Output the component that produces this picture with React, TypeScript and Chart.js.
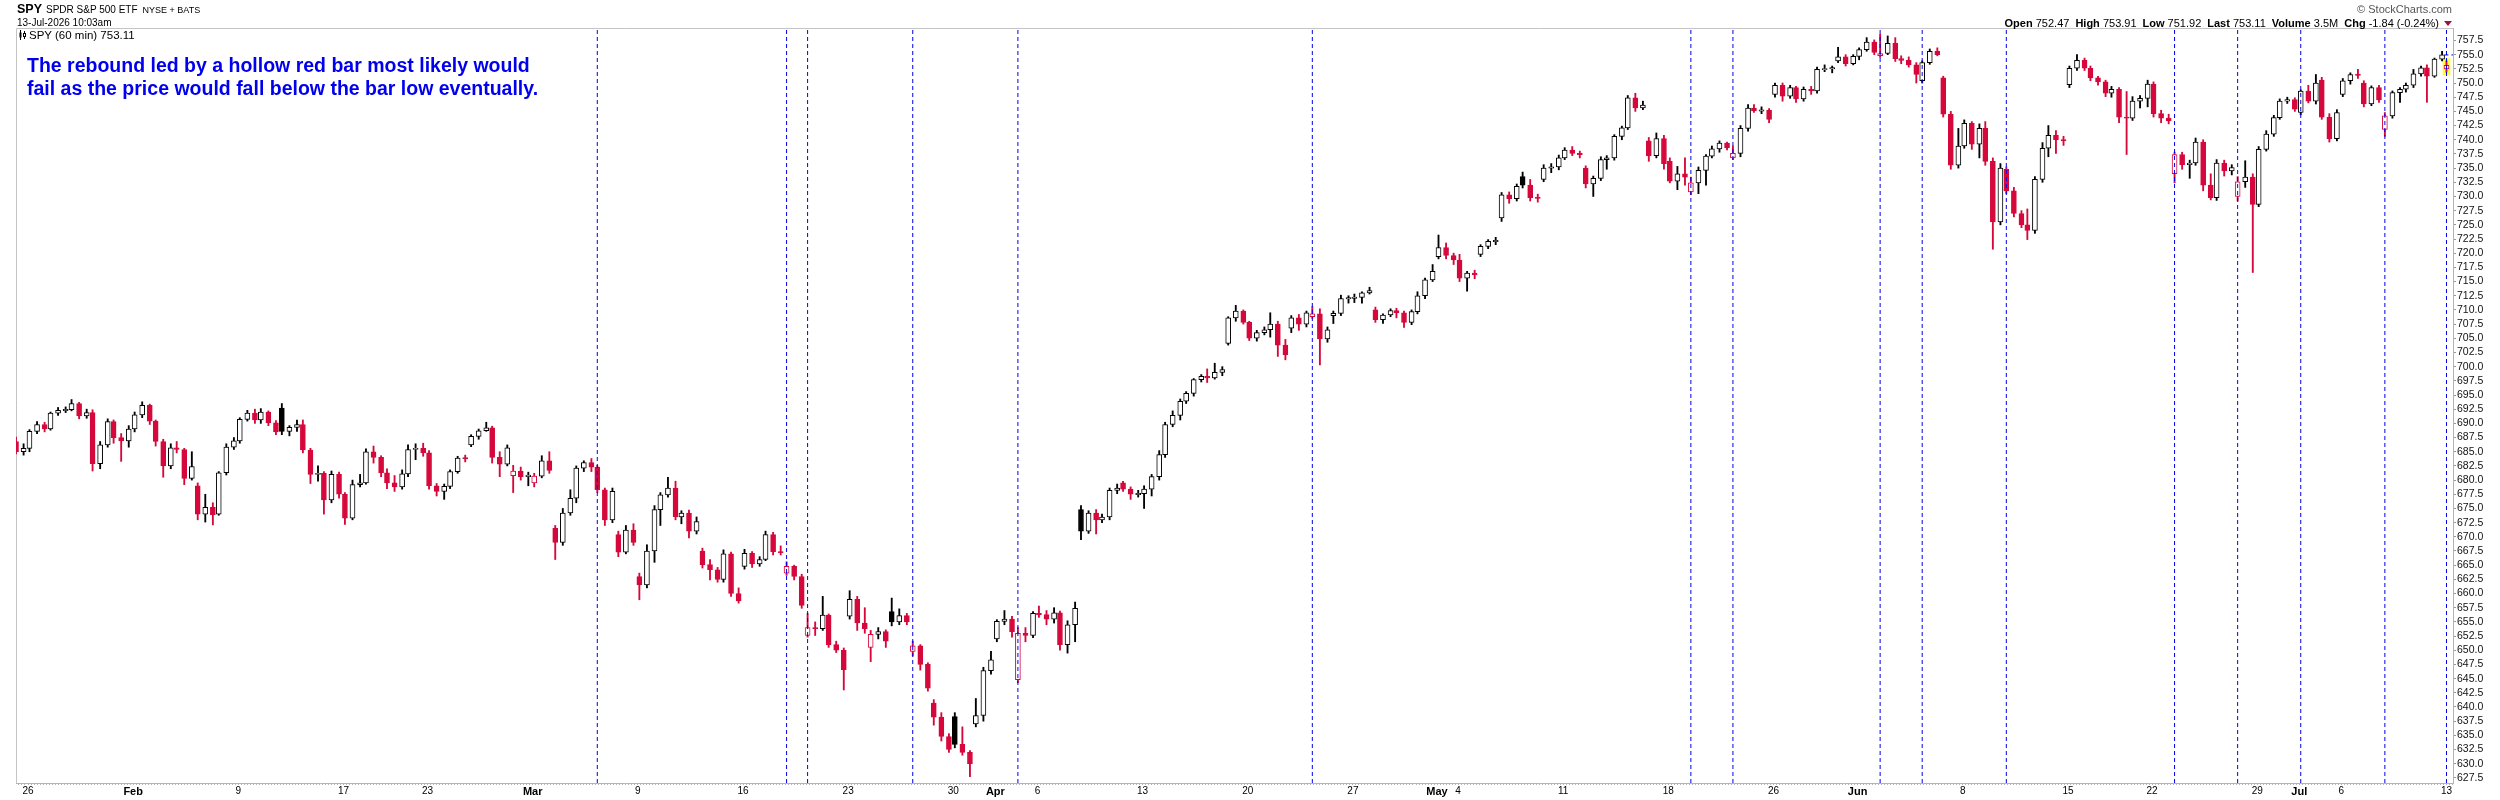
import React, { useEffect, useRef } from 'react';
import { Chart, registerables } from 'chart.js';

Chart.register(...registerables);

const FONT = "'Liberation Sans', Arial, Helvetica, sans-serif";

// x axis: trading-day index, 0 = Mon Jan 26 2026 ... 115 = Mon Jul 13 2026
const tickDays = [0, 5, 10, 15, 19, 24, 29, 34, 39, 44, 46, 48, 53, 58, 63, 67, 68, 73, 78, 83, 87, 92, 97, 101, 106, 108, 110, 115];
const tickLabels = ['26', 'Feb', '9', '17', '23', 'Mar', '9', '16', '23', '30', 'Apr', '6', '13', '20', '27', 'May', '4', '11', '18', '26', 'Jun', '8', '15', '22', '29', 'Jul', '6', '13'];
const monthNames = ['Feb', 'Mar', 'Apr', 'May', 'Jun', 'Jul'];

// sessions opened by a hollow red bar (blue dashed markers)
const markerDays = [27, 36, 37, 42, 47, 61, 79, 81, 88, 90, 94, 102, 105, 108, 112, 115];

// 60-min session split into 3 bars/day: Jan 23 (last two), Jan 26 .. Jul 10, Jul 13 (first bar)
const priorClose = 686.9;
const opens = [
  686.8, 685.0,
  685.6, 688.6, 689.8, 689.0, 691.8, 692.3, 692.4, 693.5, 691.3, 691.9, 682.9, 686.2, 690.3, 687.5, 686.9,
  689.0, 691.5, 693.2, 690.4, 686.8, 682.5, 685.7, 685.4, 680.3, 679.0, 674.0, 675.2, 674.0, 681.3, 685.8,
  686.9, 690.7, 691.8, 690.6, 692.0, 690.1, 692.7, 688.6, 689.3, 689.8, 685.3, 681.0, 681.2, 676.5, 681.0,
  677.5, 673.3, 679.2, 679.5, 685.0, 684.0, 681.3, 679.5, 678.8, 681.1, 685.4, 685.6,
  684.8, 679.0, 678.0, 678.9, 681.5, 683.9, 686.2, 687.7, 688.7, 689.2, 684.0, 682.8, 680.8, 681.6, 680.6,
  679.5, 680.7, 683.4, 671.5, 669.0, 674.2, 676.8, 682.1, 683.1, 682.3, 678.3, 673.0, 670.4, 667.3, 671.2,
  663.0, 661.5, 667.5, 674.8, 677.4, 678.6, 673.5, 674.2, 671.0, 667.5, 665.1, 664.2, 662.5, 667.0, 660.0,
  664.8, 667.1, 665.2, 666.0, 670.4, 667.4, 663.6, 664.8, 663.0, 652.6, 654.0, 653.8, 656.2, 651.0, 650.0,
  656.0, 659.0, 654.8, 650.5, 652.8, 653.3, 656.8, 655.0, 656.1, 649.8, 650.8, 647.5, 640.7, 638.2, 634.8,
  638.3, 633.4, 632.0, 637.0, 638.5, 646.4, 652.0, 655.1, 655.5, 644.8, 653.0, 652.6,
  656.5, 656.3, 655.5, 656.6, 651.0, 654.5, 674.8, 671.0, 674.2, 673.0, 673.5, 678.2, 679.5, 678.4, 677.5,
  677.6, 678.4, 680.6, 684.5, 689.8, 691.4, 693.9, 695.3, 697.7, 698.3, 698.0, 699.0, 704.1, 708.6, 709.8,
  707.8, 705.0, 706.0, 706.5, 707.5, 703.8, 706.8, 708.6, 707.5, 708.8, 709.3, 704.9, 709.0, 709.4, 712.0,
  712.1, 712.2, 713.0, 710.0, 708.3, 709.1, 709.9, 709.5, 707.8, 709.7, 712.5, 715.3, 719.4, 721.0, 719.6,
  718.8, 715.6, 716.5, 719.8, 721.2, 722.1, 726.2, 730.3, 729.6, 733.5, 732.0, 729.8, 733.0, 735.0, 735.2,
  736.8, 738.2, 737.6, 735.0, 732.2, 733.2, 736.5, 736.8, 740.6, 742.1, 747.4, 745.6, 739.8, 737.2, 740.2,
  736.2, 732.7, 734.0, 730.8, 732.4, 734.6, 737.1, 738.4, 739.4, 736.8, 737.6, 742.0, 745.6, 745.1, 745.2,
  748.0, 749.6, 747.7, 749.2, 747.2, 748.9, 748.6, 752.4, 752.5, 753.9, 754.6, 753.4,
  754.7, 755.9, 757.2, 754.8, 755.2, 757.0, 754.3, 754.0, 753.2, 750.4, 753.6, 755.6, 750.9, 744.5, 735.5,
  738.9, 742.9, 739.2, 742.0, 736.2, 725.5, 734.8, 731.0, 727.0, 725.0, 724.0, 733.0, 738.5, 740.8, 740.0,
  749.7, 752.6, 754.0, 752.6, 750.9, 750.2, 748.2, 748.9, 744.0, 743.8, 746.8, 747.3,
  749.8, 744.6, 743.8, 734.0, 737.4, 735.6, 735.9, 739.6, 732.0, 729.8, 735.9, 734.5, 730.0, 732.6, 733.4,
  728.6, 738.3, 741.0, 743.9, 746.8, 747.1, 744.8, 748.6, 746.8, 750.5, 744.0, 740.2,
  748.0, 750.4, 751.5, 750.0, 746.3, 749.2, 741.8, 744.2, 748.3, 748.9, 749.6, 751.6, 752.7, 751.2, 754.2,
  752.47,
];
const highs = [
  687.6, 686.4,
  688.9, 690.3, 690.2, 692.0, 692.8, 692.9, 694.2, 693.7, 692.5, 692.4, 686.8, 690.8, 690.6, 688.2, 689.6,
  692.0, 693.8, 693.4, 690.6, 687.2, 686.4, 686.8, 685.6, 685.0, 679.5, 677.5, 676.0, 681.5, 686.4, 687.5,
  691.0, 692.3, 692.5, 692.6, 692.2, 690.5, 693.5, 689.6, 690.6, 690.6, 685.6, 682.5, 681.5, 681.6, 681.4,
  677.8, 680.0, 681.0, 685.5, 686.0, 684.3, 682.0, 680.8, 681.8, 686.2, 686.4, 686.5,
  685.2, 679.4, 679.3, 681.8, 684.2, 684.4, 688.0, 689.0, 690.2, 689.5, 685.0, 686.2, 682.6, 682.3, 681.4,
  681.2, 684.3, 685.0, 672.0, 675.0, 678.3, 682.5, 683.4, 683.8, 682.6, 678.6, 678.6, 671.0, 672.0, 672.3,
  663.6, 668.6, 675.5, 677.8, 680.5, 679.8, 674.6, 674.7, 673.5, 668.0, 666.0, 664.6, 667.7, 667.3, 661.0,
  667.8, 667.4, 666.5, 671.0, 670.8, 668.4, 665.6, 665.0, 663.4, 656.5, 655.0, 659.5, 656.4, 651.6, 650.4,
  660.5, 659.5, 657.5, 653.5, 654.0, 653.6, 659.2, 657.3, 656.5, 651.6, 651.0, 647.8, 641.3, 639.0, 635.3,
  639.0, 636.5, 632.3, 641.5, 647.0, 649.8, 655.4, 657.0, 656.0, 654.0, 654.0, 656.8,
  657.8, 657.0, 657.5, 656.9, 655.2, 658.5, 675.5, 674.6, 674.8, 674.0, 678.6, 679.3, 679.8, 678.8, 678.2,
  679.0, 681.0, 685.2, 690.2, 692.2, 694.3, 695.6, 697.9, 698.6, 699.6, 700.6, 700.0, 708.8, 710.8, 710.0,
  708.0, 706.4, 707.0, 709.5, 708.0, 704.8, 709.0, 709.2, 709.8, 710.6, 710.2, 707.0, 709.8, 712.6, 712.5,
  712.8, 713.2, 714.0, 710.5, 709.3, 710.2, 710.3, 709.8, 710.0, 713.2, 715.6, 718.0, 723.2, 721.8, 720.0,
  719.8, 716.8, 717.0, 721.5, 722.4, 722.8, 730.7, 730.8, 732.2, 734.3, 733.0, 730.4, 735.6, 735.8, 737.3,
  738.6, 738.8, 738.0, 735.4, 733.6, 737.0, 737.2, 740.9, 742.4, 747.8, 748.2, 746.8, 740.4, 741.2, 740.8,
  736.8, 735.3, 736.8, 733.4, 735.2, 737.4, 738.9, 739.8, 739.6, 738.9, 742.5, 746.2, 746.2, 745.8, 745.5,
  750.0, 750.0, 749.6, 749.4, 749.3, 749.4, 752.8, 753.2, 753.0, 756.3, 755.0, 755.0,
  756.2, 758.0, 757.6, 758.6, 758.3, 758.0, 754.8, 754.6, 753.6, 753.9, 756.0, 756.2, 751.2, 745.0, 742.0,
  743.5, 743.2, 742.8, 743.2, 736.8, 735.8, 735.2, 731.6, 727.5, 727.8, 733.5, 739.5, 742.5, 741.6, 740.6,
  753.0, 755.0, 754.4, 753.0, 751.2, 750.5, 749.4, 749.2, 748.5, 747.6, 747.8, 750.5,
  750.2, 745.2, 744.5, 737.8, 737.8, 736.4, 740.3, 740.0, 734.0, 736.5, 736.4, 735.6, 733.5, 736.3, 734.0,
  738.8, 741.6, 744.3, 747.2, 747.5, 747.4, 748.8, 749.6, 751.5, 751.0, 744.6, 745.3,
  750.8, 751.8, 752.4, 750.4, 749.5, 749.6, 744.8, 748.6, 749.2, 750.0, 752.4, 753.0, 753.2, 754.4, 755.6,
  753.91,
];
const lows = [
  684.6, 684.4,
  685.0, 688.2, 688.5, 688.8, 691.4, 691.9, 692.2, 690.8, 690.9, 681.6, 682.0, 685.8, 686.5, 683.3, 685.8,
  688.5, 691.0, 689.8, 686.0, 680.5, 682.0, 684.8, 679.2, 680.0, 673.0, 672.6, 672.1, 673.8, 680.9, 685.4,
  686.5, 690.4, 690.0, 690.0, 689.6, 688.0, 688.0, 687.8, 688.6, 684.8, 679.4, 679.8, 674.0, 676.0, 676.8,
  672.2, 673.0, 678.8, 679.3, 683.0, 680.6, 678.5, 678.0, 678.4, 680.6, 683.6, 684.2,
  678.4, 677.2, 676.6, 678.5, 681.2, 683.2, 685.9, 687.2, 688.6, 683.0, 680.6, 682.5, 677.8, 680.0, 679.0,
  678.8, 680.4, 681.2, 666.0, 668.5, 673.8, 676.0, 681.5, 681.5, 677.8, 672.0, 672.5, 666.5, 667.0, 668.5,
  658.9, 661.0, 665.5, 672.0, 677.0, 673.0, 672.3, 669.8, 670.5, 664.5, 662.4, 662.0, 662.0, 659.5, 658.3,
  664.3, 664.6, 664.8, 665.8, 666.8, 666.8, 663.2, 662.4, 657.4, 652.3, 652.6, 653.5, 650.5, 649.6, 643.0,
  655.5, 653.5, 653.0, 648.0, 652.0, 650.5, 654.3, 654.5, 654.5, 649.0, 646.5, 642.8, 636.8, 634.0, 632.0,
  632.8, 631.5, 627.7, 636.5, 637.5, 645.8, 651.5, 654.5, 652.3, 644.3, 651.5, 652.2,
  655.8, 654.5, 654.8, 650.0, 649.5, 651.5, 669.5, 670.6, 670.5, 672.5, 673.0, 677.6, 678.0, 676.6, 677.0,
  675.0, 677.2, 680.0, 684.0, 689.4, 690.6, 693.5, 694.8, 697.3, 697.2, 697.8, 698.4, 703.8, 708.0, 707.5,
  704.6, 704.5, 705.6, 705.2, 701.8, 701.2, 706.0, 706.4, 707.0, 708.5, 700.3, 704.3, 707.6, 709.0, 711.2,
  711.3, 711.2, 712.8, 707.8, 707.6, 708.8, 708.6, 706.9, 707.4, 709.3, 712.0, 715.0, 719.0, 719.0, 718.0,
  715.0, 713.3, 715.5, 719.4, 720.8, 721.5, 725.6, 728.8, 729.2, 731.5, 729.2, 729.0, 732.6, 734.2, 734.7,
  736.5, 737.2, 736.8, 731.5, 730.0, 732.8, 734.8, 736.4, 740.0, 741.8, 745.0, 745.3, 736.2, 736.8, 734.8,
  732.4, 731.2, 732.0, 730.3, 730.5, 732.0, 736.8, 737.8, 738.2, 736.5, 737.0, 741.5, 744.8, 744.6, 743.0,
  747.5, 746.8, 747.3, 746.6, 746.8, 748.0, 748.2, 752.0, 751.8, 753.6, 753.0, 753.2,
  754.1, 755.6, 755.0, 754.5, 755.0, 753.8, 753.4, 752.8, 750.0, 750.0, 753.3, 754.8, 744.0, 734.8, 735.0,
  738.5, 738.3, 736.8, 735.5, 720.7, 725.0, 730.5, 726.4, 724.5, 722.4, 723.5, 732.5, 737.0, 737.6, 739.0,
  749.2, 752.2, 752.2, 750.4, 749.6, 747.6, 747.5, 743.0, 737.4, 743.4, 745.6, 745.8,
  744.0, 743.0, 742.8, 732.4, 734.8, 733.2, 735.5, 731.0, 729.4, 729.3, 733.6, 733.8, 729.2, 731.6, 716.6,
  728.2, 738.0, 740.6, 743.6, 746.4, 745.0, 744.4, 746.5, 746.3, 743.6, 739.6, 739.8,
  747.6, 749.8, 750.8, 745.8, 746.0, 746.6, 740.6, 743.8, 746.6, 748.4, 749.2, 751.2, 746.6, 751.0, 753.9,
  751.92,
];
const closes = [
  685.0, 685.6,
  688.6, 689.8, 689.0, 691.8, 692.3, 692.4, 693.5, 691.3, 691.9, 682.9, 686.2, 690.3, 687.5, 686.9, 689.0,
  691.5, 693.2, 690.4, 686.8, 682.5, 685.7, 685.4, 680.3, 682.4, 674.0, 675.2, 673.9, 681.3, 685.8, 686.9,
  690.7, 691.8, 690.6, 692.0, 690.1, 688.5, 688.6, 689.3, 689.8, 685.3, 681.0, 681.2, 676.5, 681.0, 677.5,
  673.3, 679.2, 679.5, 685.0, 684.0, 681.3, 679.5, 678.8, 681.1, 685.4, 685.6, 684.8,
  679.0, 678.0, 678.9, 681.5, 683.9, 683.8, 687.7, 688.7, 689.2, 684.0, 682.8, 685.7, 681.6, 680.6, 680.9,
  680.7, 683.4, 681.7, 669.0, 674.2, 676.8, 682.1, 683.1, 682.3, 678.3, 673.0, 678.0, 667.3, 671.2, 669.0,
  661.5, 667.5, 674.8, 677.4, 678.6, 673.5, 674.2, 671.0, 672.7, 665.1, 664.2, 662.5, 667.0, 660.0, 658.7,
  667.1, 665.2, 666.0, 670.4, 667.4, 667.2, 664.8, 663.0, 657.9, 654.0, 653.8, 656.2, 651.0, 650.0, 646.6,
  659.0, 654.8, 653.8, 652.8, 653.3, 651.6, 655.0, 656.1, 655.0, 650.8, 647.5, 643.3, 638.2, 634.8, 632.5,
  633.4, 632.0, 630.0, 638.5, 646.4, 648.3, 655.1, 655.5, 653.3, 653.0, 652.6, 656.5,
  656.3, 655.5, 656.6, 651.0, 654.5, 657.4, 671.0, 674.2, 673.0, 673.5, 678.2, 678.6, 678.4, 677.5, 677.6,
  678.4, 680.6, 684.5, 689.8, 691.4, 693.9, 695.3, 697.7, 698.3, 698.0, 699.0, 699.5, 708.6, 709.8, 707.8,
  705.0, 706.0, 706.5, 707.5, 703.8, 702.1, 708.6, 707.5, 709.5, 709.3, 704.9, 706.5, 709.4, 712.0, 712.1,
  712.2, 713.0, 713.4, 708.3, 709.1, 709.9, 709.5, 707.8, 709.7, 712.5, 715.3, 716.8, 721.0, 719.6, 718.8,
  715.6, 716.5, 716.2, 721.2, 722.1, 722.2, 730.3, 729.6, 731.8, 732.0, 729.8, 729.7, 735.0, 735.2, 736.8,
  738.2, 737.6, 737.4, 732.2, 733.2, 736.5, 736.8, 740.6, 742.1, 747.4, 745.6, 746.1, 737.2, 740.2, 735.8,
  732.7, 734.0, 733.4, 732.4, 734.6, 737.1, 738.4, 739.4, 738.6, 737.6, 742.0, 745.6, 745.1, 745.2, 743.6,
  749.6, 747.7, 749.2, 747.2, 748.9, 748.6, 752.4, 752.5, 752.7, 754.6, 753.4, 754.7,
  755.9, 757.2, 755.4, 755.2, 757.0, 754.3, 754.0, 753.2, 751.5, 753.6, 755.6, 755.0, 744.5, 735.5, 738.9,
  742.9, 739.2, 742.0, 736.2, 725.5, 735.0, 731.0, 727.0, 725.0, 724.0, 733.0, 738.5, 740.8, 740.0, 739.8,
  752.6, 754.0, 752.6, 750.9, 750.2, 748.2, 748.9, 744.0, 743.8, 746.8, 747.3, 749.8,
  744.6, 743.8, 743.3, 737.4, 735.6, 735.9, 739.6, 732.0, 729.8, 735.9, 734.5, 735.1, 732.6, 733.4, 728.6,
  738.3, 741.0, 743.9, 746.8, 747.1, 745.4, 748.6, 746.8, 750.0, 744.0, 740.2, 744.8,
  750.4, 751.5, 751.4, 746.3, 749.2, 747.0, 744.2, 748.3, 748.9, 749.6, 751.6, 752.7, 751.2, 754.2, 754.95,
  753.11,
];

const quote = [
  ['Open', '752.47'],
  ['High', '753.91'],
  ['Low', '751.92'],
  ['Last', '753.11'],
  ['Volume', '3.5M'],
  ['Chg', '-1.84 (-0.24%)'],
];

const X_MIN = -0.571;
const X_MAX = 115.31;
const Y_MIN = 626.6;
const Y_MAX = 759.7;
const DAY_PX = 21.03;
const UP = '#000000';
const DOWN = '#d6083b';
const AXIS = '#b4b4b4';
const MARK = '#0000ee';

// bar positions inside a session (three bars per day)
const slots = [0.07, 0.43, 0.79];
const barX: number[] = [];
const barDay: number[] = [];
[1, 2].forEach((s) => {
  barX.push(-1 + slots[s]);
  barDay.push(-1);
});
for (let d = 0; d < 115; d++) {
  slots.forEach((s) => {
    barX.push(d + s);
    barDay.push(d);
  });
}
barX.push(115);
barDay.push(115);

// small tick every hourly slot, labels only at week / month starts
const axisTicks: { value: number; lbl: string }[] = [];
for (let d = -1; d <= 115; d++) {
  for (let k = 0; k < 7; k++) {
    const v = d + (k * 3) / DAY_PX;
    if (v < X_MIN || v > X_MAX) continue;
    const ti = k === 0 ? tickDays.indexOf(d) : -1;
    axisTicks.push({ value: v, lbl: ti >= 0 ? tickLabels[ti] : '' });
  }
}

const framePlugin = {
  id: 'frame',
  beforeDatasetsDraw(chart: any) {
    const { ctx, chartArea: a } = chart;
    ctx.save();
    ctx.strokeStyle = '#c4c4c4';
    ctx.lineWidth = 1;
    ctx.beginPath();
    ctx.moveTo(a.left + 0.5, a.bottom);
    ctx.lineTo(a.left + 0.5, a.top + 0.5);
    ctx.lineTo(a.right, a.top + 0.5);
    ctx.stroke();
    ctx.restore();
  },
};

const CandleIcon = () => (
  <svg width="8" height="10" viewBox="0 0 8 10" style={{ marginRight: 2, verticalAlign: '-1px' }}>
    <line x1="1.5" y1="0" x2="1.5" y2="10" stroke="#000" />
    <rect x="0.5" y="2.5" width="2" height="5" fill="#000" />
    <line x1="5.5" y1="1" x2="5.5" y2="9" stroke="#000" />
    <rect x="4.5" y="3.5" width="2" height="3" fill="#fff" stroke="#000" strokeWidth="1" />
  </svg>
);

export default function App() {
  const canvasRef = useRef<HTMLCanvasElement>(null);

  useEffect(() => {
    const canvas = canvasRef.current;
    if (!canvas) return;

    const n = closes.length;
    const colors = closes.map((c, i) => (c >= (i > 0 ? closes[i - 1] : priorClose) ? UP : DOWN));
    const fills = closes.map((c, i) => (c < opens[i] ? colors[i] : '#ffffff'));
    const wicks = closes.map((_, i) => ({ x: barX[i], y: [lows[i], highs[i]] }));
    const bodies = closes.map((c, i) => {
      let lo = Math.min(opens[i], c);
      let hi = Math.max(opens[i], c);
      if (hi - lo < 0.22) {
        const mid = (lo + hi) / 2;
        lo = mid - 0.11;
        hi = mid + 0.11;
      }
      return { x: barX[i], y: [lo, hi] };
    });
    const markerPts = markerDays.flatMap((d) => {
      const x = barX[barDay.indexOf(d)];
      return [
        { x, y: Y_MIN },
        { x, y: Y_MAX },
        { x, y: null },
      ];
    });
    const last = n - 1;

    const chart = new Chart(canvas, {
      type: 'bar',
      data: {
        datasets: [
          {
            type: 'line',
            label: 'markers',
            data: markerPts as any,
            borderColor: MARK,
            borderWidth: 1,
            borderDash: [4, 3],
            pointRadius: 0,
            spanGaps: false,
            order: 0,
          },
          {
            type: 'line',
            label: 'prior close',
            data: [
              { x: barX[last] - 0.1, y: closes[last - 1] },
              { x: X_MAX, y: closes[last - 1] },
            ],
            borderColor: MARK,
            borderWidth: 1,
            borderDash: [4, 3],
            pointRadius: 0,
            order: 0,
          },
          {
            label: 'bodies',
            data: bodies as any,
            backgroundColor: fills,
            borderColor: colors,
            borderWidth: 1,
            borderSkipped: false,
            barThickness: 5,
            grouped: false,
            order: 1,
          },
          {
            label: 'wicks',
            data: wicks as any,
            backgroundColor: colors,
            borderWidth: 0,
            barThickness: 1.2,
            grouped: false,
            order: 2,
          },
          {
            label: 'current',
            data: [{ x: barX[last], y: [lows[last] - 0.5, highs[last] + 0.4] }] as any,
            backgroundColor: '#ffff3a',
            borderWidth: 0,
            barThickness: 7,
            grouped: false,
            order: 3,
          },
        ],
      },
      options: {
        responsive: false,
        animation: false,
        events: [],
        layout: { padding: { left: 16, top: 28, right: 3, bottom: 0 } },
        plugins: {
          legend: { display: false },
          tooltip: { enabled: false },
        },
        scales: {
          x: {
            type: 'linear',
            min: X_MIN,
            max: X_MAX,
            offset: false,
            grid: { drawOnChartArea: false, drawTicks: true, tickLength: 2, color: AXIS, offset: false },
            border: { display: true, color: AXIS },
            afterBuildTicks: (scale: any) => {
              scale.ticks = axisTicks.map((t) => ({ ...t }));
            },
            afterFit: (scale: any) => {
              scale.height = 17;
            },
            ticks: {
              autoSkip: false,
              maxRotation: 0,
              minRotation: 0,
              padding: 0.5,
              color: '#000',
              font: (c: any) =>
                monthNames.includes(c.tick?.label)
                  ? { family: FONT, size: 11, weight: 'bold' }
                  : { family: FONT, size: 10 },
              callback: (_v: any, i: number, ticks: any[]) => ticks[i].lbl,
            },
          },
          y: {
            type: 'linear',
            position: 'right',
            min: Y_MIN,
            max: Y_MAX,
            grid: { drawOnChartArea: false, drawTicks: true, tickLength: 3, color: '#999' },
            border: { display: true, color: AXIS },
            afterFit: (scale: any) => {
              scale.width = 44;
            },
            ticks: {
              stepSize: 2.5,
              includeBounds: false,
              autoSkip: false,
              padding: 1,
              color: '#111',
              font: { family: FONT, size: 10.5 },
              callback: (v: any) => Number(v).toFixed(1),
            },
          },
        },
      } as any,
      plugins: [framePlugin],
    });

    return () => chart.destroy();
  }, []);

  return (
    <div
      style={{
        position: 'absolute',
        left: 0,
        top: 0,
        width: 2500,
        height: 800,
        background: '#fff',
        fontFamily: FONT,
        color: '#000',
        overflow: 'hidden',
      }}
    >
      <canvas ref={canvasRef} width={2500} height={800} style={{ position: 'absolute', left: 0, top: 0, width: 2500, height: 800 }} />

      <div style={{ position: 'absolute', left: 17, top: 1, whiteSpace: 'nowrap', lineHeight: '14px' }}>
        <span style={{ fontSize: 12.5, fontWeight: 'bold' }}>SPY</span>
        <span style={{ fontSize: 10, marginLeft: 4 }}>SPDR S&amp;P 500 ETF</span>
        <span style={{ fontSize: 9, marginLeft: 5 }}>NYSE + BATS</span>
      </div>
      <div style={{ position: 'absolute', left: 17, top: 17, fontSize: 10, lineHeight: '12px', whiteSpace: 'nowrap' }}>
        13-Jul-2026 10:03am
      </div>

      <div style={{ position: 'absolute', left: 19, top: 28.5, fontSize: 11.5, lineHeight: '13px', whiteSpace: 'nowrap' }}>
        <CandleIcon />
        SPY (60 min) 753.11
      </div>

      <div
        style={{
          position: 'absolute',
          left: 27,
          top: 53.5,
          fontSize: 19.5,
          lineHeight: '23px',
          fontWeight: 'bold',
          color: MARK,
          whiteSpace: 'nowrap',
        }}
      >
        <div>The rebound led by a hollow red bar most likely would</div>
        <div>fail as the price would fall below the bar low eventually.</div>
      </div>

      <div style={{ position: 'absolute', right: 48, top: 3, fontSize: 11, lineHeight: '13px', color: '#555', whiteSpace: 'nowrap' }}>
        © StockCharts.com
      </div>
      <div style={{ position: 'absolute', right: 48, top: 16.5, fontSize: 11, lineHeight: '13px', whiteSpace: 'nowrap' }}>
        {quote.map(([k, v], i) => (
          <span key={k} style={{ marginLeft: i ? 6 : 0 }}>
            <b>{k}</b> {v}
          </span>
        ))}
        <span
          style={{
            display: 'inline-block',
            width: 0,
            height: 0,
            marginLeft: 5,
            borderLeft: '4px solid transparent',
            borderRight: '4px solid transparent',
            borderTop: '5px solid #a3103c',
            verticalAlign: 'middle',
          }}
        />
      </div>
    </div>
  );
}
